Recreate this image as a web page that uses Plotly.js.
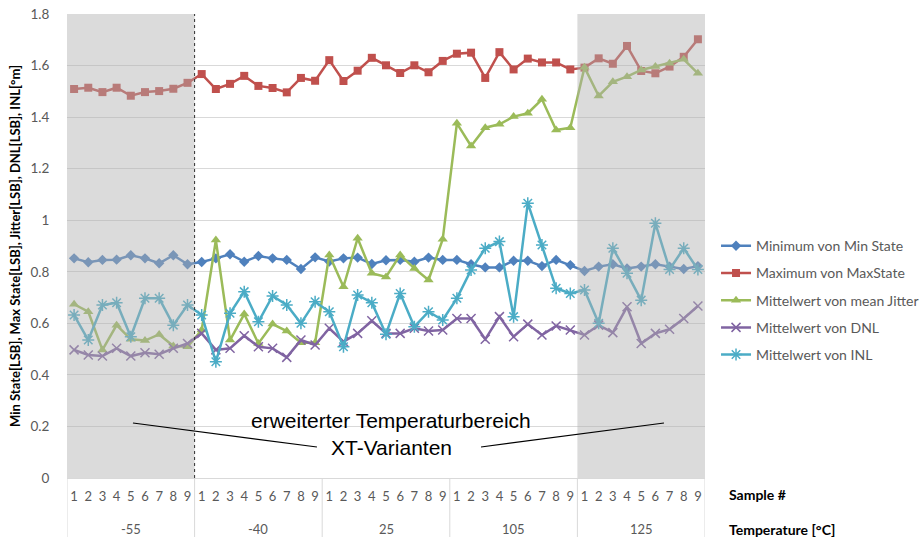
<!DOCTYPE html>
<html>
<head>
<meta charset="utf-8">
<script src="https://cdn.plot.ly/plotly-3.0.1.min.js"></script>
<style>html,body{margin:0;padding:0;background:#fff;}#chart{width:922px;height:537px;}</style>
</head>
<body>
<div id="chart"></div>
<script>
const temperatures = ['-55', '-40', '25', '105', '125'];
const samples = [1, 2, 3, 4, 5, 6, 7, 8, 9];

const minState = [0.852, 0.837, 0.846, 0.847, 0.864, 0.852, 0.833, 0.864, 0.829,
                  0.838, 0.852, 0.868, 0.839, 0.861, 0.852, 0.846, 0.811, 0.856,
                  0.840, 0.852, 0.855, 0.830, 0.845, 0.846, 0.839, 0.855, 0.846,
                  0.846, 0.829, 0.817, 0.817, 0.843, 0.843, 0.822, 0.846, 0.826,
                  0.803, 0.820, 0.829, 0.813, 0.820, 0.829, 0.820, 0.811, 0.822];
const maxState = [1.509, 1.514, 1.497, 1.514, 1.483, 1.497, 1.501, 1.510, 1.533,
                  1.567, 1.509, 1.529, 1.560, 1.521, 1.513, 1.496, 1.552, 1.541,
                  1.621, 1.540, 1.580, 1.630, 1.601, 1.571, 1.601, 1.574, 1.618,
                  1.646, 1.650, 1.552, 1.652, 1.585, 1.627, 1.612, 1.612, 1.585,
                  1.592, 1.628, 1.607, 1.676, 1.579, 1.570, 1.596, 1.634, 1.702];
const meanJitter = [0.674, 0.645, 0.497, 0.593, 0.538, 0.533, 0.557, 0.512, 0.509,
                    0.574, 0.923, 0.535, 0.636, 0.522, 0.597, 0.570, 0.525, 0.525,
                    0.865, 0.742, 0.930, 0.794, 0.780, 0.865, 0.813, 0.768, 0.926,
                    1.376, 1.288, 1.359, 1.372, 1.402, 1.415, 1.469, 1.350, 1.359,
                    1.593, 1.482, 1.537, 1.557, 1.583, 1.596, 1.609, 1.624, 1.570];
const dnl = [0.497, 0.477, 0.473, 0.503, 0.473, 0.486, 0.480, 0.503, 0.522,
             0.561, 0.497, 0.503, 0.552, 0.509, 0.503, 0.468, 0.535, 0.516,
             0.581, 0.529, 0.561, 0.610, 0.561, 0.561, 0.581, 0.570, 0.574,
             0.619, 0.619, 0.538, 0.626, 0.548, 0.597, 0.555, 0.590, 0.574,
             0.555, 0.593, 0.564, 0.664, 0.522, 0.561, 0.577, 0.619, 0.667];
const inl = [0.632, 0.535, 0.671, 0.680, 0.548, 0.697, 0.697, 0.593, 0.671,
             0.632, 0.451, 0.639, 0.723, 0.606, 0.706, 0.671, 0.600, 0.684,
             0.645, 0.509, 0.710, 0.680, 0.558, 0.716, 0.587, 0.645, 0.613,
             0.697, 0.807, 0.891, 0.917, 0.626, 1.066, 0.904, 0.736, 0.716,
             0.729, 0.600, 0.891, 0.794, 0.690, 0.988, 0.809, 0.891, 0.809];

const seriesNames = ['Minimum von Min State', 'Maximum von MaxState', 'Mittelwert von mean Jitter',
                     'Mittelwert von DNL', 'Mittelwert von INL'];

// category positions built from the two label levels
const xIdx = [];
const tickText = [];
temperatures.forEach((t, ti) => samples.forEach((s, si) => {
  xIdx.push(ti * samples.length + si);
  tickText.push(String(s));
}));
const nS = samples.length;
const nAll = xIdx.length;

const styles = [
  {color: '#4f81bd', symbol: 'diamond', size: 8, lw: 0},
  {color: '#c0504d', symbol: 'square', size: 8, lw: 0},
  {color: '#9bbb59', symbol: 'triangle-up', size: 9, lw: 0},
  {color: '#8064a2', symbol: 'x-thin-open', size: 9, lw: 1.5},
  {color: '#4bacc6', symbol: 'asterisk-open', size: 10, lw: 1.5}
];
const values = [minState, maxState, meanJitter, dnl, inl];

const traces = values.map((v, i) => ({
  type: 'scatter',
  mode: 'lines+markers',
  name: seriesNames[i],
  legendgroup: 'g' + i,
  x: xIdx,
  y: v,
  line: {color: styles[i].color, width: 2.5},
  marker: {symbol: styles[i].symbol, size: styles[i].size, color: styles[i].color,
           line: {width: styles[i].lw, color: styles[i].color}}
}));

const shapes = [
  {type: 'rect', xref: 'x', yref: 'paper', x0: -0.5, x1: nS - 0.5, y0: 0, y1: 1,
   fillcolor: 'rgba(175,175,175,0.45)', line: {width: 0}, layer: 'above'},
  {type: 'rect', xref: 'x', yref: 'paper', x0: 4 * nS - 0.5, x1: nAll - 0.5, y0: 0, y1: 1,
   fillcolor: 'rgba(175,175,175,0.45)', line: {width: 0}, layer: 'above'},
  {type: 'line', xref: 'x', yref: 'paper', x0: nS - 0.5, x1: nS - 0.5, y0: 0, y1: 1,
   line: {color: '#303030', width: 1, dash: 'dot'}, layer: 'above'},
  {type: 'line', xref: 'paper', yref: 'paper', x0: 0.1034, y0: 0.1185, x1: 0.3918, y1: 0.0668,
   line: {color: '#000', width: 1.2}, layer: 'above'},
  {type: 'line', xref: 'paper', yref: 'paper', x0: 0.6489, y0: 0.0668, x1: 0.9357, y1: 0.1185,
   line: {color: '#000', width: 1.2}, layer: 'above'}
];
for (let g = 0; g <= temperatures.length; g++) {
  shapes.push({type: 'line', xref: 'x', yref: 'paper', x0: g * nS - 0.5, x1: g * nS - 0.5,
               y0: 0, y1: -0.128, line: {color: '#d9d9d9', width: 1}});
}

const annotations = temperatures.map((t, ti) => ({
  xref: 'x', yref: 'paper', x: ti * nS + (nS - 1) / 2, y: -0.11, text: t, showarrow: false,
  font: {family: 'Lato', size: 13, color: '#595959'}, xanchor: 'center', yanchor: 'middle'
}));
annotations.push(
  {xref: 'paper', yref: 'paper', x: 1.0345, y: -0.0345, text: '<b>Sample #</b>', showarrow: false,
   xanchor: 'left', yanchor: 'middle', font: {family: 'Lato', size: 14, color: '#000'}},
  {xref: 'paper', yref: 'paper', x: 1.0345, y: -0.11, text: '<b>Temperature [°C]</b>', showarrow: false,
   xanchor: 'left', yanchor: 'middle', font: {family: 'Lato', size: 14, color: '#000'}},
  {xref: 'paper', yref: 'paper', x: 0.508, y: 0.123, text: 'erweiterter Temperaturbereich', showarrow: false,
   xanchor: 'center', yanchor: 'middle', font: {family: 'Liberation Sans', size: 21, color: '#000'}},
  {xref: 'paper', yref: 'paper', x: 0.508, y: 0.065, text: 'XT-Varianten', showarrow: false,
   xanchor: 'center', yanchor: 'middle', font: {family: 'Liberation Sans', size: 21, color: '#000'}}
);

const layout = {
  width: 922, height: 537,
  margin: {l: 67, r: 217, t: 14, b: 59, pad: 0, autoexpand: false},
  paper_bgcolor: '#fff', plot_bgcolor: '#fff',
  showlegend: true,
  legend: {xref: 'container', yref: 'container', x: 0.7766, xanchor: 'left', y: 0.441, yanchor: 'middle',
           font: {family: 'Lato', size: 14, color: '#595959'}, bgcolor: 'rgba(0,0,0,0)',
           itemwidth: 30, tracegroupgap: 6},
  xaxis: {range: [-0.5, nAll - 0.5], tickmode: 'array', tickvals: xIdx, ticktext: tickText,
          showgrid: false, zeroline: false, showline: true, linecolor: '#d9d9d9', linewidth: 1,
          ticks: 'outside', ticklen: 6, tickcolor: 'rgba(0,0,0,0)',
          tickfont: {family: 'Lato', size: 13, color: '#595959'}, fixedrange: true},
  yaxis: {range: [0, 1.8], dtick: 0.2, tick0: 0, showgrid: true, gridcolor: '#d9d9d9', gridwidth: 1,
          zeroline: false, showline: false, ticks: 'outside', ticklen: 14, tickcolor: 'rgba(0,0,0,0)',
          tickfont: {family: 'Lato', size: 13.5, color: '#595959'},
          title: {text: '<b>Min State[LSB], Max State[LSB], Jitter[LSB], DNL[LSB], INL[°m]</b>',
                  font: {family: 'Lato', size: 13, color: '#000'}, standoff: 6},
          fixedrange: true},
  shapes: shapes,
  annotations: annotations
};

Plotly.newPlot('chart', traces, layout, {displayModeBar: false, staticPlot: true});
</script>
</body>
</html>
